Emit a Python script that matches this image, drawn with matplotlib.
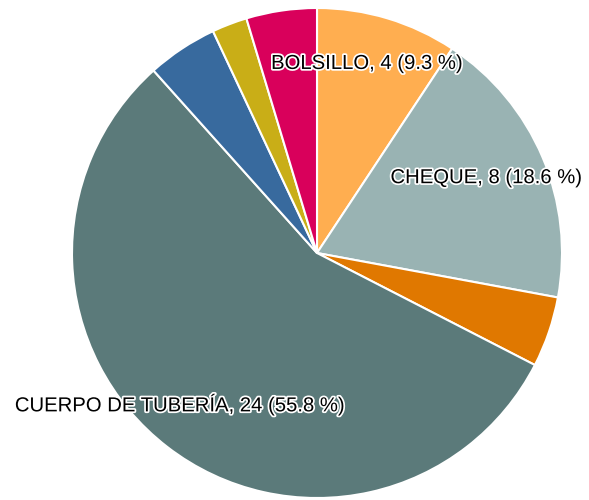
import numpy as np
import matplotlib.pyplot as plt
import matplotlib.patheffects as pe

# datos de la tarta (en sentido horario desde arriba)
categorias = ["BOLSILLO", "CHEQUE", "OTRO 1", "CUERPO DE TUBERÍA", "OTRO 2", "OTRO 3", "OTRO 4"]
valores = [4, 8, 2, 24, 2, 1, 2]
colores = ["#FFAE50", "#99B3B3", "#E07800", "#5B7A7A", "#386A9E", "#C9AE17", "#D9005B"]
mostrar = [True, True, False, True, False, False, False]
# distancia radial y pequeño giro (grados, sentido horario) de cada etiqueta
dist_etiqueta = [0.80, 0.755, 0.8, 0.835, 0.8, 0.8, 0.8]
giro_etiqueta = [-2.0, -1.0, 0, 4.5, 0, 0, 0]

W, H = 589, 500
cx, cy, r = 317, 253, 245

fig = plt.figure(figsize=(W / 100, H / 100), dpi=100)
ax = fig.add_axes([0, 0, 1, 1])

wedges, _ = ax.pie(valores, colors=colores, startangle=90, counterclock=False,
                   radius=1, wedgeprops=dict(edgecolor="white", linewidth=1.5))

total = sum(valores)
for w, cat, v, m, d, g in zip(wedges, categorias, valores, mostrar,
                              dist_etiqueta, giro_etiqueta):
    if not m:
        continue
    ang = np.deg2rad((w.theta1 + w.theta2) / 2 - g)
    x, y = d * np.cos(ang), d * np.sin(ang)
    txt = f"{cat}, {v} ({100 * v / total:.1f} %)"
    ax.text(x, y, txt, ha="center", va="center", fontsize=14.6,
            family="Liberation Sans", color="black",
            path_effects=[pe.withStroke(linewidth=2.5, foreground="white")])

ax.set_xlim(-cx / r, (W - cx) / r)
ax.set_ylim(-(H - cy) / r, cy / r)
ax.set_aspect("equal")
ax.axis("off")

fig.savefig("out.png", dpi=100)
